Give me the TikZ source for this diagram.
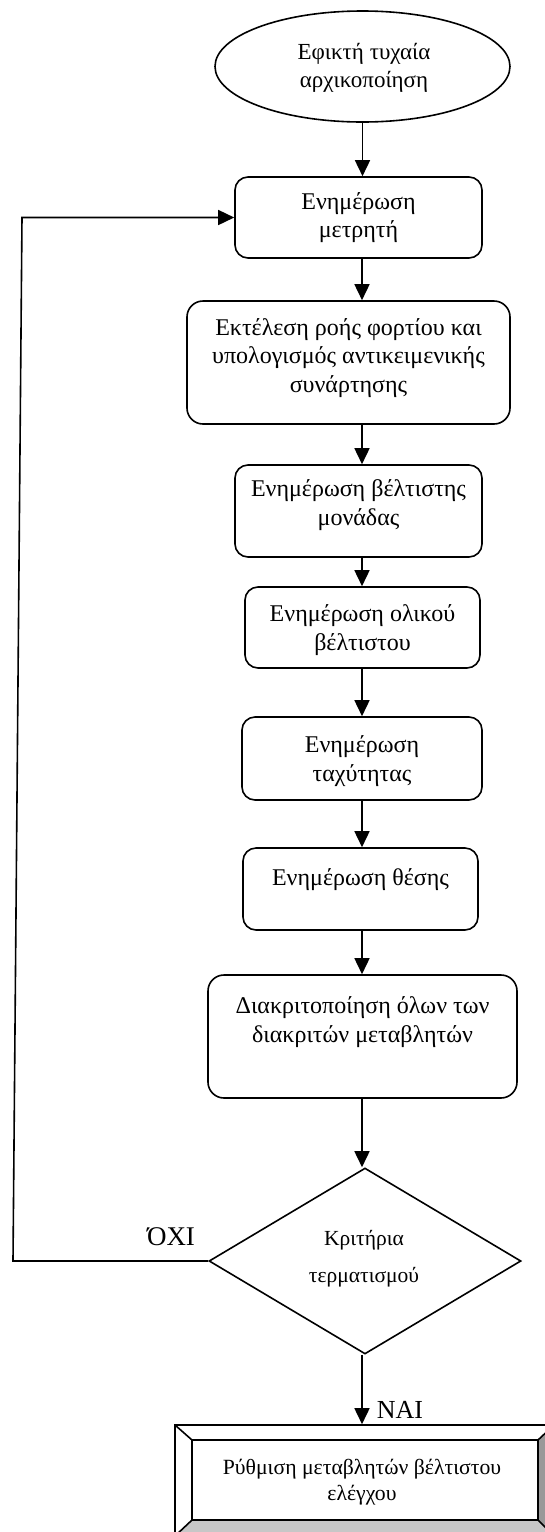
\documentclass[tikz,border=0pt]{standalone}
\usepackage{fontspec}
\setmainfont{Liberation Serif}
\usetikzlibrary{shapes.geometric,arrows.meta}

\begin{document}
\begin{tikzpicture}[x=1pt,y=-1pt,
  line width=1.6pt,
  procbox/.style={draw, rounded corners=13pt, inner sep=0pt},
  txt/.style={align=center, inner sep=0pt, font=\fontsize{24}{28.5}\selectfont},
  arr/.style={-{Triangle[length=16pt,width=15pt]}, line width=1.6pt},
  bigtag/.style={inner sep=0pt, font=\fontsize{27}{30}\selectfont}
]
\useasboundingbox (0,0) rectangle (545,1532);
\clip (0,0) rectangle (545,1532);

% spine of the vertical flow
\coordinate (spine) at (362,0);

% start
\node[draw, ellipse, minimum width=295pt, minimum height=111pt, inner sep=0pt] (e) at (362.5,66.5) {};
\node[txt, font=\fontsize{23}{28}\selectfont] (te) at (364,68) {Εφικτή τυχαία\\αρχικοποίηση};

% process steps
\node[procbox, minimum width=247pt, minimum height=81pt] (b1) at (358.5,217.5) {};
\node[txt] (t1) at (b1.center) {Ενημέρωση\\μετρητή};

\node[procbox, rounded corners=16pt, minimum width=323pt, minimum height=123pt] (b2) at (348.5,362.5) {};
\node[txt] (t2) at (348.5,358) {Εκτέλεση ροής φορτίου και\\υπολογισμός αντικειμενικής\\συνάρτησης};

\node[procbox, minimum width=247pt, minimum height=92pt] (b3) at (358.5,511) {};
\node[txt] (t3) at (358.5,505) {Ενημέρωση βέλτιστης\\μονάδας};

\node[procbox, minimum width=235pt, minimum height=81pt] (b4) at (362.5,627.5) {};
\node[txt] (t4) at (362.5,630) {Ενημέρωση ολικού\\βέλτιστου};

\node[procbox, minimum width=240pt, minimum height=83pt] (b5) at (362,758.5) {};
\node[txt] (t5) at (362,761) {Ενημέρωση\\ταχύτητας};

\node[procbox, minimum width=235pt, minimum height=82pt] (b6) at (360.5,889) {};
\node[txt] (t6) at (360.5,880) {Ενημέρωση θέσης};

\node[procbox, rounded corners=16pt, minimum width=309pt, minimum height=123pt] (b7) at (362.5,1036.5) {};
\node[txt] (t7) at (362.5,1022) {Διακριτοποίηση όλων των\\διακριτών μεταβλητών};

% decision
\node[draw, diamond, minimum width=312pt, minimum height=186pt, inner sep=0pt] (d) at (365,1261) {};
\node[txt, font=\fontsize{21.5}{37}\selectfont] (td) at (364,1259) {Κριτήρια\\τερματισμού};

% final bevelled box
\coordinate (o1) at (175,1425);
\coordinate (o2) at (554,1425);
\coordinate (o3) at (554,1536);
\coordinate (o4) at (175,1536);
\coordinate (i1) at (192,1440);
\coordinate (i2) at (538,1440);
\coordinate (i3) at (538,1520);
\coordinate (i4) at (192,1520);
\fill[black!40] (o2) -- (i2) -- (i3) -- (o3) -- cycle;
\fill[black!22] (o4) -- (i4) -- (i3) -- (o3) -- cycle;
\draw (o1) rectangle (o3);
\draw (i1) rectangle (i3);
\draw (o1) -- (i1) (o2) -- (i2) (o3) -- (i3) (o4) -- (i4);
\node[inner sep=0pt, minimum width=379pt, minimum height=111pt] (fin) at (364.5,1480.5) {};
\node[txt, font=\fontsize{21.7}{25.5}\selectfont] (tf) at (362,1482) {Ρύθμιση μεταβλητών βέλτιστου\\ελέγχου};

% answers
\node[bigtag] (no) at (171,1237) {ΌΧΙ};
\node[bigtag, font=\fontsize{26}{28}\selectfont] (yes) at (400,1410) {ΝΑΙ};

% connectors
\draw[arr] (e.south) -- (e.south |- b1.north);
\draw[arr] (b1.south -| spine) -- (b2.north -| spine);
\draw[arr] (b2.south -| spine) -- (b3.north -| spine);
\draw[arr] (b3.south -| spine) -- (b4.north -| spine);
\draw[arr] (b4.south -| spine) -- (b5.north -| spine);
\draw[arr] (b5.south -| spine) -- (b6.north -| spine);
\draw[arr] (b6.south -| spine) -- (b7.north -| spine);
\draw[arr] (b7.south -| spine) -- (spine |- d.north);
\draw[arr] (d.south -| spine) -- (fin.north -| spine);

% loop back on failure
\coordinate (lb) at (13,1261);
\coordinate (lt) at (22,217.5);
\draw[arr] (d.west) -- (lb) -- (lt) -- (b1.west);
\end{tikzpicture}
\end{document}
